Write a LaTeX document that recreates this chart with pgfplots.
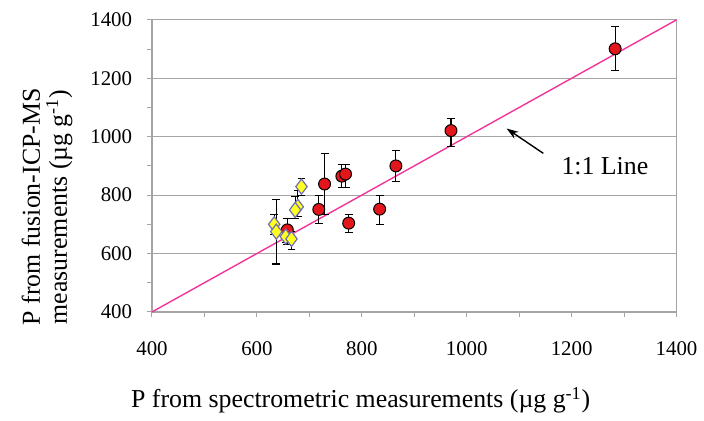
\documentclass[border=0pt]{standalone}
\usepackage{fontspec}
\setmainfont{Liberation Serif}
\usepackage{pgfplots}
\pgfplotsset{compat=1.18}
\usetikzlibrary{arrows.meta}

\definecolor{dotred}{HTML}{E3161C}
\definecolor{linepink}{HTML}{F2349A}
\definecolor{diafill}{HTML}{FFFF22}
\definecolor{diaedge}{HTML}{7070B0}
\definecolor{axgray}{HTML}{A8A4A4}

\begin{document}
\begin{tikzpicture}
\begin{axis}[
    scale only axis,
    width=264pt, height=147pt,
    xmin=400, xmax=1400, ymin=400, ymax=1400,
    xtick={400,600,...,1400}, ytick={400,600,...,1400},
    xticklabels={400,600,800,1000,1200,1400},
    yticklabels={400,600,800,1000,1200,1400},
    minor tick num=1,
    tick align=outside, tick pos=left,
    major tick length=2.5pt, minor tick length=2.5pt,
    every tick/.style={axgray, line width=0.5pt},
    axis line style={axgray, line width=0.6pt},
    ymajorgrids, grid style={axgray, line width=0.5pt},
    ticklabel style={font=\rmfamily\fontsize{10.5}{12}\selectfont},
    xticklabel style={yshift=-9pt},
    yticklabel style={xshift=-4pt},
    xlabel={P from spectrometric measurements (µg g\textsuperscript{-1})},
    xlabel style={at={(axis description cs:0.398,-0.303)}, anchor=center,
        font=\fontsize{13}{14}\selectfont},
    ylabel={P from fusion-ICP-MS\\measurements (µg g\textsuperscript{-1})},
    ylabel style={at={(axis description cs:-0.20,0.36)}, anchor=center,
        align=center, font=\fontsize{13}{13.5}\selectfont},
    clip=false,
]
% 1:1 line
\addplot[linepink, line width=0.7pt] coordinates {(400,400) (1400,1400)};

% red circles
\addplot[only marks, mark=*, mark size=3pt,
    mark options={fill=dotred, draw=black, line width=0.5pt},
    error bars/.cd, y dir=both, y explicit,
    error bar style={black, line width=0.6pt},
    error mark options={rotate=90, mark size=2pt, black, line width=0.6pt}]
    table[x=x, y=y, y error plus=ep, y error minus=em] {
x     y     ep   em
1283  1301  77   74
970   1021  41   54
865   900   54   54
834   752   48   52
775   704   30   31
762   865   41   38
769   872   34   45
729   838   105  105
718   751   49   47
658   681   40   51
};

% yellow diamonds
\addplot[only marks, mark=diamond*, mark size=3.8pt,
    mark options={fill=diafill, draw=diaedge, line width=0.6pt},
    error bars/.cd, y dir=both, y explicit,
    error bar style={black, line width=0.6pt},
    error mark options={rotate=90, mark size=2pt, black, line width=0.6pt}]
    table[x=x, y=y, y error plus=ep, y error minus=em] {
x     y     ep   em
685   829   28   29
678   760   57   33
673   749   45   30
633   700   34   36
637   675   111  111
655   658   22   20
666   650   25   37
};

\draw[-{Stealth[length=6pt,width=4pt]}, black, line width=0.7pt]
    (axis cs:1146,943) -- (axis cs:1076,1028);
\node[anchor=west, font=\fontsize{13}{14}\selectfont, inner sep=0pt]
    at (axis cs:1180,900) {1:1 Line};
\end{axis}
\path[use as bounding box] (-76.5pt,-51.5pt) rectangle (275.5pt,157pt);
\end{tikzpicture}
\end{document}
